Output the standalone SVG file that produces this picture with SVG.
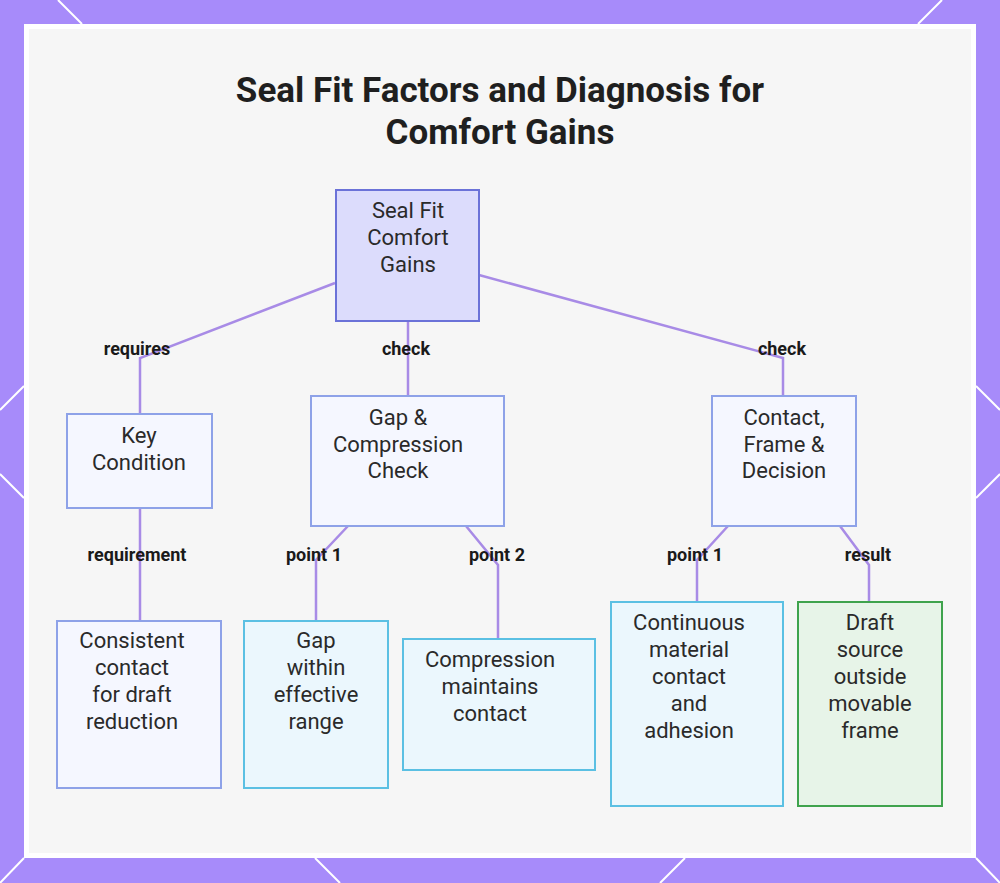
<svg xmlns="http://www.w3.org/2000/svg" width="1000" height="883" viewBox="0 0 1000 883">
<style>
.n{font-family:Roboto,"Liberation Sans",sans-serif;font-size:22px;fill:#2a2a2a;text-anchor:middle}
.l{font-family:Roboto,"Liberation Sans",sans-serif;font-size:18px;font-weight:bold;fill:#1a1a1a;text-anchor:middle}
.t{font-family:Roboto,"Liberation Sans",sans-serif;font-size:35px;font-weight:bold;fill:#1f1f1f;text-anchor:middle}
.c{fill:none;stroke:#a88be6;stroke-width:2.5}
.b{fill:#f5f7ff;stroke:#8ea2e8;stroke-width:2}
.cy{fill:#ebf7fd;stroke:#5bc0e3;stroke-width:2}
.g{fill:#e7f4e8;stroke:#3fa34d;stroke-width:2}
</style>
<rect width="1000" height="883" fill="#a78bfa"/>
<g stroke="#ffffff" stroke-width="2">
<line x1="58" y1="0" x2="82" y2="24"/><line x1="942" y1="0" x2="918" y2="24"/>
<line x1="0" y1="410" x2="24" y2="386"/><line x1="0" y1="474" x2="24" y2="498"/>
<line x1="1000" y1="410" x2="976" y2="386"/><line x1="1000" y1="474" x2="976" y2="498"/>
<line x1="0" y1="883" x2="24" y2="858"/><line x1="340" y1="883" x2="315" y2="858"/><line x1="660" y1="883" x2="685" y2="858"/><line x1="1000" y1="883" x2="976" y2="858"/>
</g>
<rect x="24" y="24" width="952" height="834" fill="#ffffff"/>
<rect x="29" y="29" width="942" height="824" fill="#f6f6f6"/>
<text class="t" x="500" y="102">Seal Fit Factors and Diagnosis for</text>
<text class="t" x="500" y="144">Comfort Gains</text>
<g id="connectors">
<path class="c" d="M335,283 L140,358 V414"/>
<path class="c" d="M408,321 V396"/>
<path class="c" d="M479,275 L783,358 V396"/>
<path class="c" d="M140,508 V621"/>
<path class="c" d="M348,526 L316,560 V621"/>
<path class="c" d="M466,526 L498,565 V639"/>
<path class="c" d="M728,526 L697,560 V602"/>
<path class="c" d="M840,526 L869,565 V602"/>
<text class="l" x="137" y="355">requires</text>
<text class="l" x="406" y="355">check</text>
<text class="l" x="782" y="355">check</text>
<text class="l" x="137" y="561">requirement</text>
<text class="l" x="314" y="561">point 1</text>
<text class="l" x="497" y="561">point 2</text>
<text class="l" x="695" y="561">point 1</text>
<text class="l" x="868" y="561">result</text>
</g>
<g id="root"><rect x="336" y="190" width="143" height="131" fill="#dcdcfc" stroke="#6b72d8" stroke-width="2"/>
<text class="n" x="408" y="218">Seal Fit</text><text class="n" x="408" y="245">Comfort</text><text class="n" x="408" y="272">Gains</text></g>
<g id="key"><rect class="b" x="67" y="414" width="145" height="94"/>
<text class="n" x="139" y="443">Key</text><text class="n" x="139" y="470">Condition</text></g>
<g id="gap"><rect class="b" x="311" y="396" width="193" height="130"/>
<text class="n" x="398" y="425">Gap &amp;</text><text class="n" x="398" y="452">Compression</text><text class="n" x="398" y="478">Check</text></g>
<g id="contact"><rect class="b" x="712" y="396" width="144" height="130"/>
<text class="n" x="784" y="425">Contact,</text><text class="n" x="784" y="452">Frame &amp;</text><text class="n" x="784" y="478">Decision</text></g>
<g id="consistent"><rect class="b" x="57" y="621" width="164" height="167"/>
<text class="n" x="132" y="648">Consistent</text><text class="n" x="132" y="675">contact</text><text class="n" x="132" y="702">for draft</text><text class="n" x="132" y="729">reduction</text></g>
<g id="gapwithin"><rect class="cy" x="244" y="621" width="144" height="167"/>
<text class="n" x="316" y="648">Gap</text><text class="n" x="316" y="675">within</text><text class="n" x="316" y="702">effective</text><text class="n" x="316" y="729">range</text></g>
<g id="compression"><rect class="cy" x="403" y="639" width="192" height="131"/>
<text class="n" x="490" y="667">Compression</text><text class="n" x="490" y="694">maintains</text><text class="n" x="490" y="721">contact</text></g>
<g id="continuous"><rect class="cy" x="611" y="602" width="172" height="204"/>
<text class="n" x="689" y="630">Continuous</text><text class="n" x="689" y="657">material</text><text class="n" x="689" y="684">contact</text><text class="n" x="689" y="711">and</text><text class="n" x="689" y="738">adhesion</text></g>
<g id="draft"><rect class="g" x="798" y="602" width="144" height="204"/>
<text class="n" x="870" y="630">Draft</text><text class="n" x="870" y="657">source</text><text class="n" x="870" y="684">outside</text><text class="n" x="870" y="711">movable</text><text class="n" x="870" y="738">frame</text></g>
</svg>
